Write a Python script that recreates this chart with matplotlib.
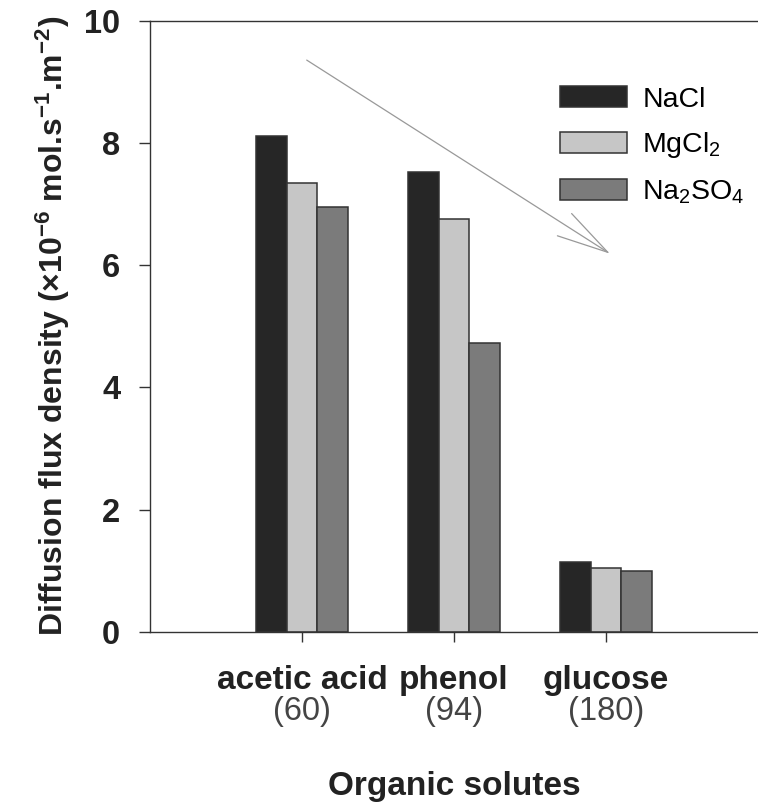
import matplotlib
matplotlib.use('Agg')
import matplotlib.pyplot as plt
import numpy as np

# values (x10^-6 mol.s-1.m-2)
solutes = ['acetic acid', 'phenol', 'glucose']
mol_weights = ['(60)', '(94)', '(180)']
salts = ['NaCl', 'MgCl$_2$', 'Na$_2$SO$_4$']
nacl = [8.12, 7.53, 1.14]
mgcl2 = [7.35, 6.75, 1.05]
na2so4 = [6.96, 4.73, 0.99]
colors = ['#262626', '#c6c6c6', '#7b7b7b']

plt.rcParams['font.family'] = 'Liberation Sans'
plt.rcParams['mathtext.default'] = 'regular'

fig = plt.figure(figsize=(7.58, 8.05), dpi=100)
ax = fig.add_axes([150 / 758, (805 - 631.7) / 805, 608 / 758, 610.7 / 805])

x = np.arange(1, len(solutes) + 1)
w = 0.2
for i, vals in enumerate([nacl, mgcl2, na2so4]):
    ax.bar(x + (i - 1) * w, vals, w, color=colors[i], edgecolor='#333333',
           linewidth=1.1, label=salts[i])

ax.set_xlim(0, 4)
ax.set_ylim(0, 10)
ax.set_yticks([0, 2, 4, 6, 8, 10])
ax.set_xticks(x)
ax.set_xticklabels(solutes, fontsize=24, fontweight='bold', color='#222222')
for lbl in ax.get_yticklabels():
    lbl.set_fontweight('bold')

ax.spines['right'].set_visible(False)
for s in ['left', 'top', 'bottom']:
    ax.spines[s].set_color('#333333')
    ax.spines[s].set_linewidth(1.0)

ax.tick_params(axis='y', direction='out', length=8, width=1, color='#333333',
               labelsize=23.5, labelcolor='#222222', pad=13.5)
ax.tick_params(axis='x', direction='out', length=7, width=1, color='#333333',
               pad=17)

# molecular weights under the names
for xi, mw in zip(x, mol_weights):
    ax.text(xi, -0.145, mw, transform=ax.get_xaxis_transform(), ha='center',
            va='baseline', fontsize=23.5, color='#444444')

ax.set_ylabel('Diffusion flux density (×10$^{-6}$ mol.s$^{-1}$.m$^{-2}$)',
              fontsize=23, fontweight='bold', color='#222222', labelpad=9)
ax.set_xlabel('Organic solutes', fontsize=24, fontweight='bold', color='#222222')
ax.xaxis.set_label_coords(0.5, -0.228)

ax.annotate('', xy=(3.026, 6.19), xytext=(1.031, 9.36),
            arrowprops=dict(arrowstyle='->,head_length=3.7,head_width=0.95',
                            mutation_scale=10, color='#999999', lw=0.9,
                            shrinkA=0, shrinkB=0))

ax.legend(loc='upper left', bbox_to_anchor=(0.674, 0.893), frameon=False,
          fontsize=20.5, handlelength=2.35, handleheight=0.75, handletextpad=0.55,
          labelspacing=0.62, borderpad=0, borderaxespad=0)

fig.savefig('out.png', dpi=100)
